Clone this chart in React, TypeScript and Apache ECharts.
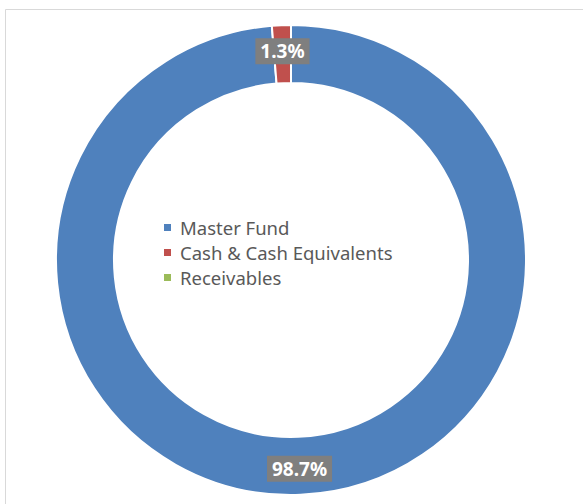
import React, { useEffect, useRef } from "react";
import * as echarts from "echarts";

const categories = ["Master Fund", "Cash & Cash Equivalents", "Receivables"];
const values = [98.7, 1.3, 0];
const colors = ["#4F81BD", "#C0504D", "#9BBB59"];

export default function App() {
  const ref = useRef<HTMLDivElement>(null);
  useEffect(() => {
    if (!ref.current) return;
    const chart = echarts.init(ref.current, null, { renderer: "svg" });
    chart.setOption({
      animation: false,
      color: colors,
      textStyle: { fontFamily: "Noto Sans" },
      graphic: [
        {
          type: "rect",
          shape: { x: 5.5, y: 9.5, width: 620, height: 520 },
          style: { fill: "none", stroke: "#d9d9d9", lineWidth: 1 },
          silent: true,
          z: -10,
        },
      ],
      legend: {
        orient: "vertical",
        left: 162,
        top: 215,
        padding: 0,
        icon: "rect",
        itemWidth: 9,
        itemHeight: 9,
        itemGap: 0,
        selectedMode: false,
        textStyle: {
          fontFamily: "Noto Sans",
          fontSize: 18.5,
          color: "#595959",
          lineHeight: 25,
          padding: [0, 0, 0, 3],
        },
        data: categories,
      },
      series: [
        {
          type: "pie",
          center: [291, 260],
          radius: [177, 235],
          startAngle: 90,
          clockwise: true,
          avoidLabelOverlap: false,
          itemStyle: { borderColor: "#ffffff", borderWidth: 2 },
          label: {
            show: true,
            position: "inside",
            formatter: (p: any) => (p.value > 0 ? p.value.toFixed(1) + "%" : ""),
            color: "#ffffff",
            fontFamily: "Noto Sans",
            fontWeight: "bold",
            fontSize: 19,
            backgroundColor: "#7f7f7f",
            padding: [4, 5, 3, 5],
          },
          labelLine: { show: false },
          emphasis: { disabled: true },
          data: categories.map((name, i) => ({ name, value: values[i] })),
        },
      ],
    });
    return () => chart.dispose();
  }, []);
  return (
    <div
      ref={ref}
      style={{ position: "absolute", left: 0, top: 0, width: 583, height: 504, background: "#ffffff" }}
    />
  );
}
